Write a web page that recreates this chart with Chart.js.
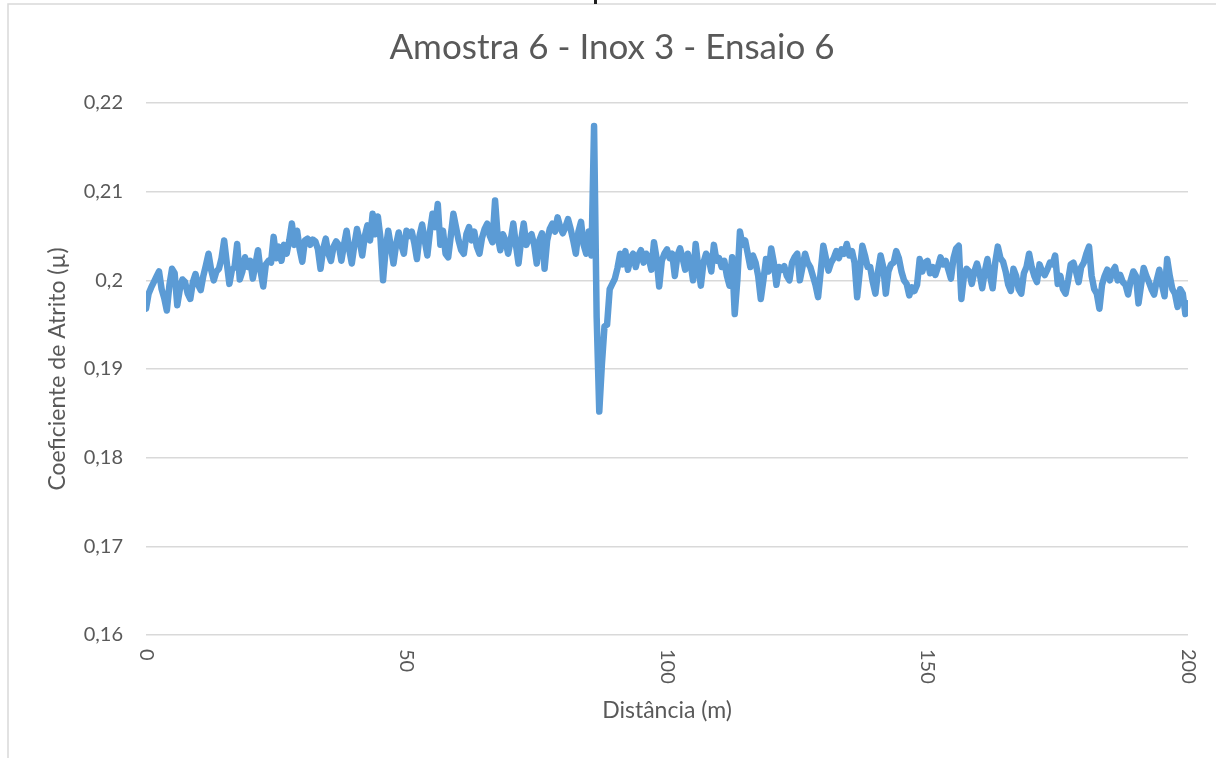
<!DOCTYPE html>
<html>
<head>
<meta charset="utf-8">
<script src="https://cdn.jsdelivr.net/npm/chart.js@4.4.1/dist/chart.umd.min.js"></script>
<style>
  html, body { margin: 0; padding: 0; background: #ffffff; }
  canvas { display: block; }
</style>
</head>
<body>
<canvas id="c" width="1216" height="758"></canvas>
<script>
// Texts
const chartTitle = 'Amostra 6 - Inox 3 - Ensaio 6';
const xTitle = 'Distância (m)';
const yTitle = 'Coeficiente de Atrito (µ)';

// Axis ticks
const xTicks = [0, 50, 100, 150, 200];
const yTicks = [0.16, 0.17, 0.18, 0.19, 0.20, 0.21, 0.22];

// Readings every 0.5 m, from 0 m to 200 m
const sampleStep = 0.5;
const coefficient = [
  // 0 - 9.5 m
  0.1968, 0.1985, 0.1992, 0.1998, 0.2004, 0.2010, 0.1990, 0.1980, 0.1966, 0.1995,
  0.2013, 0.2008, 0.1972, 0.1990, 0.2001, 0.1998, 0.1985, 0.1979, 0.1998, 0.2007,
  // 10 - 19.5 m
  0.1995, 0.1989, 0.2005, 0.2017, 0.2030, 0.2012, 0.2000, 0.2010, 0.2013, 0.2025,
  0.2045, 0.2020, 0.1996, 0.2012, 0.2015, 0.2041, 0.2001, 0.2010, 0.2026, 0.2015,
  // 20 - 29.5 m
  0.2022, 0.2002, 0.2018, 0.2034, 0.2010, 0.1993, 0.2018, 0.2022, 0.2020, 0.2049,
  0.2025, 0.2038, 0.2022, 0.2040, 0.2030, 0.2045, 0.2064, 0.2040, 0.2056, 0.2035,
  // 30 - 39.5 m
  0.2021, 0.2045, 0.2047, 0.2040, 0.2046, 0.2044, 0.2035, 0.2013, 0.2035, 0.2047,
  0.2030, 0.2022, 0.2038, 0.2044, 0.2040, 0.2022, 0.2040, 0.2056, 0.2035, 0.2019,
  // 40 - 49.5 m
  0.2040, 0.2058, 0.2045, 0.2028, 0.2050, 0.2062, 0.2045, 0.2075, 0.2052, 0.2072,
  0.2048, 0.2000, 0.2035, 0.2056, 0.2038, 0.2019, 0.2040, 0.2054, 0.2040, 0.2030,
  // 50 - 59.5 m
  0.2056, 0.2050, 0.2055, 0.2042, 0.2024, 0.2050, 0.2063, 0.2045, 0.2028, 0.2055,
  0.2075, 0.2060, 0.2086, 0.2040, 0.2056, 0.2030, 0.2026, 0.2050, 0.2075, 0.2060,
  // 60 - 69.5 m
  0.2045, 0.2034, 0.2030, 0.2052, 0.2060, 0.2045, 0.2055, 0.2038, 0.2030, 0.2048,
  0.2058, 0.2064, 0.2050, 0.2043, 0.2090, 0.2050, 0.2034, 0.2052, 0.2045, 0.2030,
  // 70 - 79.5 m
  0.2045, 0.2064, 0.2040, 0.2019, 0.2045, 0.2064, 0.2040, 0.2048, 0.2052, 0.2040,
  0.2019, 0.2045, 0.2053, 0.2013, 0.2045, 0.2058, 0.2064, 0.2055, 0.2071, 0.2060,
  // 80 - 89.5 m
  0.2053, 0.2060, 0.2069, 0.2058, 0.2045, 0.2030, 0.2055, 0.2066, 0.2040, 0.2030,
  0.2055, 0.2028, 0.2174, 0.1958, 0.1852, 0.1905, 0.1948, 0.1950, 0.1990, 0.1996,
  // 90 - 99.5 m
  0.2002, 0.2014, 0.2030, 0.2018, 0.2033, 0.2012, 0.2025, 0.2030, 0.2015, 0.2028,
  0.2034, 0.2020, 0.2030, 0.2025, 0.2012, 0.2043, 0.2025, 0.1993, 0.2022, 0.2030,
  // 100 - 109.5 m
  0.2035, 0.2025, 0.2030, 0.2005, 0.2028, 0.2036, 0.2025, 0.2012, 0.2030, 0.2020,
  0.2000, 0.2041, 0.2015, 0.1994, 0.2020, 0.2030, 0.2025, 0.2010, 0.2040, 0.2022,
  // 110 - 119.5 m
  0.2025, 0.2015, 0.2022, 0.2005, 0.1994, 0.2026, 0.1962, 0.2000, 0.2055, 0.2040,
  0.2045, 0.2030, 0.2015, 0.2028, 0.2020, 0.2005, 0.1979, 0.2000, 0.2024, 0.2010,
  // 120 - 129.5 m
  0.2036, 0.2020, 0.1995, 0.2015, 0.2012, 0.2016, 0.2005, 0.2000, 0.2020, 0.2026,
  0.2030, 0.2000, 0.2015, 0.2030, 0.2020, 0.2015, 0.2005, 0.1995, 0.1981, 0.2010,
  // 130 - 139.5 m
  0.2039, 0.2025, 0.2011, 0.2020, 0.2025, 0.2033, 0.2025, 0.2035, 0.2030, 0.2041,
  0.2028, 0.2033, 0.2020, 0.1981, 0.2010, 0.2039, 0.2028, 0.2015, 0.2015, 0.1998,
  // 140 - 149.5 m
  0.1985, 0.2010, 0.2028, 0.2015, 0.1985, 0.2010, 0.2018, 0.2020, 0.2033, 0.2025,
  0.2010, 0.2000, 0.1996, 0.1983, 0.1992, 0.1988, 0.1995, 0.2024, 0.2010, 0.2020,
  // 150 - 159.5 m
  0.2022, 0.2008, 0.2015, 0.2006, 0.2015, 0.2026, 0.2018, 0.2022, 0.2012, 0.2002,
  0.2025, 0.2036, 0.2039, 0.1979, 0.2005, 0.2013, 0.2010, 0.1996, 0.2010, 0.2019,
  // 160 - 169.5 m
  0.2008, 0.1991, 0.2010, 0.2024, 0.2005, 0.1991, 0.2020, 0.2038, 0.2025, 0.2021,
  0.2010, 0.1995, 0.1988, 0.2013, 0.2005, 0.1990, 0.1985, 0.2008, 0.2015, 0.2030,
  // 170 - 179.5 m
  0.2015, 0.2005, 0.1998, 0.2018, 0.2010, 0.2006, 0.2012, 0.2020, 0.2018, 0.2028,
  0.1996, 0.2005, 0.1990, 0.1985, 0.2000, 0.2018, 0.2020, 0.2010, 0.1998, 0.2015,
  // 180 - 189.5 m
  0.2020, 0.2030, 0.2038, 0.2005, 0.1990, 0.1985, 0.1968, 0.1995, 0.2005, 0.2012,
  0.2000, 0.2010, 0.2015, 0.2000, 0.2006, 0.1998, 0.1995, 0.1984, 0.2000, 0.2010,
  // 190 - 200 m
  0.2005, 0.1974, 0.1995, 0.2014, 0.2005, 0.1998, 0.1990, 0.1984, 0.2000, 0.2012,
  0.1995, 0.1982, 0.2024, 0.2005, 0.1990, 0.1985, 0.1970, 0.1990, 0.1985, 0.1962,
  0.1974
];

const textColor = '#595959';
const gridColor = '#d9d9d9';
const fontFamily = 'Lato, "Open Sans", sans-serif';

const points = coefficient.map((v, i) => ({ x: i * sampleStep, y: v }));

const formatComma = v => String(Math.round(v * 100) / 100).replace('.', ',');

// Outer frame of the chart object plus rotated distance labels
const framePlugin = {
  id: 'frame',
  beforeDraw(chart) {
    const ctx = chart.ctx;
    ctx.save();
    ctx.strokeStyle = gridColor;
    ctx.lineWidth = 1.5;
    ctx.beginPath();
    ctx.moveTo(8, 758);
    ctx.lineTo(8, 4);
    ctx.lineTo(1216, 4);
    ctx.stroke();
    ctx.fillStyle = '#1e1e1e';
    ctx.fillRect(594, 0, 3, 4);
    ctx.restore();
  },
  afterDraw(chart) {
    const ctx = chart.ctx;
    const xs = chart.scales.x;
    ctx.save();
    ctx.fillStyle = textColor;
    ctx.font = '20px ' + fontFamily;
    ctx.textAlign = 'left';
    ctx.textBaseline = 'middle';
    xTicks.forEach(v => {
      const px = xs.getPixelForValue(v);
      ctx.save();
      ctx.translate(px, chart.chartArea.bottom + 14);
      ctx.rotate(Math.PI / 2);
      ctx.fillText(String(v), 0, 0);
      ctx.restore();
    });
    ctx.restore();
  }
};

new Chart(document.getElementById('c'), {
  type: 'line',
  data: {
    datasets: [{
      data: points,
      borderColor: '#5b9bd5',
      backgroundColor: '#5b9bd5',
      borderWidth: 6.5,
      borderCapStyle: 'round',
      borderJoinStyle: 'round',
      pointRadius: 0,
      tension: 0,
      fill: false
    }]
  },
  options: {
    responsive: false,
    animation: false,
    devicePixelRatio: 1,
    layout: { padding: { left: 36, right: 28, top: 0, bottom: 0 } },
    plugins: {
      legend: { display: false },
      tooltip: { enabled: false },
      title: {
        display: true,
        text: chartTitle,
        color: textColor,
        font: { family: fontFamily, size: 35, weight: 'normal' },
        padding: { top: 27, bottom: 34 }
      }
    },
    scales: {
      x: {
        type: 'linear',
        position: 'bottom',
        min: 0,
        max: 200,
        afterBuildTicks(scale) { scale.ticks = xTicks.map(v => ({ value: v })); },
        afterFit(scale) { scale.height = 123; },
        grid: { display: false },
        border: { display: false },
        ticks: { display: false },
        title: {
          display: true,
          text: xTitle,
          color: textColor,
          font: { family: fontFamily, size: 23 },
          padding: { top: 0, bottom: 34 }
        }
      },
      y: {
        type: 'linear',
        min: 0.16,
        max: 0.22,
        afterBuildTicks(scale) { scale.ticks = yTicks.map(v => ({ value: v })); },
        afterFit(scale) { scale.width = 110; },
        grid: { color: gridColor, lineWidth: 1.5, drawTicks: false },
        border: { display: false },
        ticks: {
          color: textColor,
          font: { family: fontFamily, size: 20 },
          padding: 23,
          callback: v => formatComma(v)
        },
        title: {
          display: true,
          text: yTitle,
          color: textColor,
          font: { family: fontFamily, size: 23 },
          padding: { top: 8, bottom: 0 }
        }
      }
    }
  },
  plugins: [framePlugin]
});
</script>
</body>
</html>
